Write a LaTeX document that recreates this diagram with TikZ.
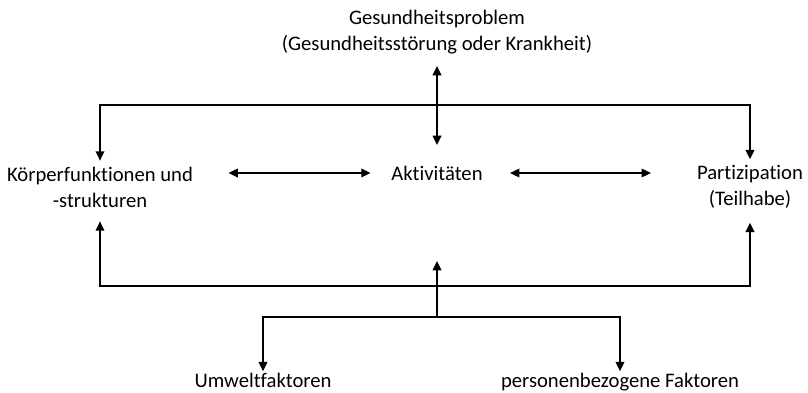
\documentclass[tikz,border=0pt]{standalone}
\usepackage{fontspec}
\setmainfont{Carlito}[Ligatures=NoCommon]
\usetikzlibrary{arrows.meta}

\begin{document}
\begin{tikzpicture}[x=0.75pt,y=-0.75pt,line width=1.2pt,
    >={Triangle[length=7pt,width=6.5pt]},
    lbl/.style={align=center,inner sep=0pt,font=\fontsize{15.5}{19.5}\selectfont}]
      \useasboundingbox (0,0) rectangle (808,393);

      \node[lbl] (gp) at (437,32.5) {Gesundheitsproblem\\(Gesundheitsstörung oder Krankheit)};
      \node[lbl] (kf) at (100,187) {Körperfunktionen und\\-strukturen};
      \node[lbl] (akt) at (437,173) {Aktivitäten};
      \node[lbl] (part) at (750,187) {Partizipation\\(Teilhabe)};
      \node[lbl,anchor=base] (umw) at (263,387) {Umweltfaktoren};
      \node[lbl,anchor=base] (pers) at (620,387) {personenbezogene Faktoren};

      \coordinate (oben) at (437,105);
      \coordinate (unten) at (437,286);
      \coordinate (kontext) at (437,317);

      % Gesundheitsproblem
      \draw[<->,shorten <=8pt,shorten >=15pt] (gp.south) -- (akt.north);
      \draw[->,shorten >=4pt] (oben) -| (kf.north);
      \draw[->,shorten >=4pt] (oben) -| (part.north);

      % Wechselwirkungen
      \draw[<->,shorten <=26pt,shorten >=15pt] (akt.west -| kf.east) -- (akt.west);
      \draw[<->,shorten <=20pt,shorten >=34pt] (akt.east) -- (akt.east -| part.west);

      % Kontextfaktoren
      \draw[->,shorten >=10pt] (unten) -| (kf.south);
      \draw[->,shorten >=10pt] (unten) -| (part.south);
      \draw[->,shorten >=60pt] (kontext) -- (akt.south);
      \draw[->,shorten >=0.5pt] (kontext) -| (umw.north);
      \draw[->,shorten >=0.5pt] (kontext) -| (pers.north);
\end{tikzpicture}
\end{document}
